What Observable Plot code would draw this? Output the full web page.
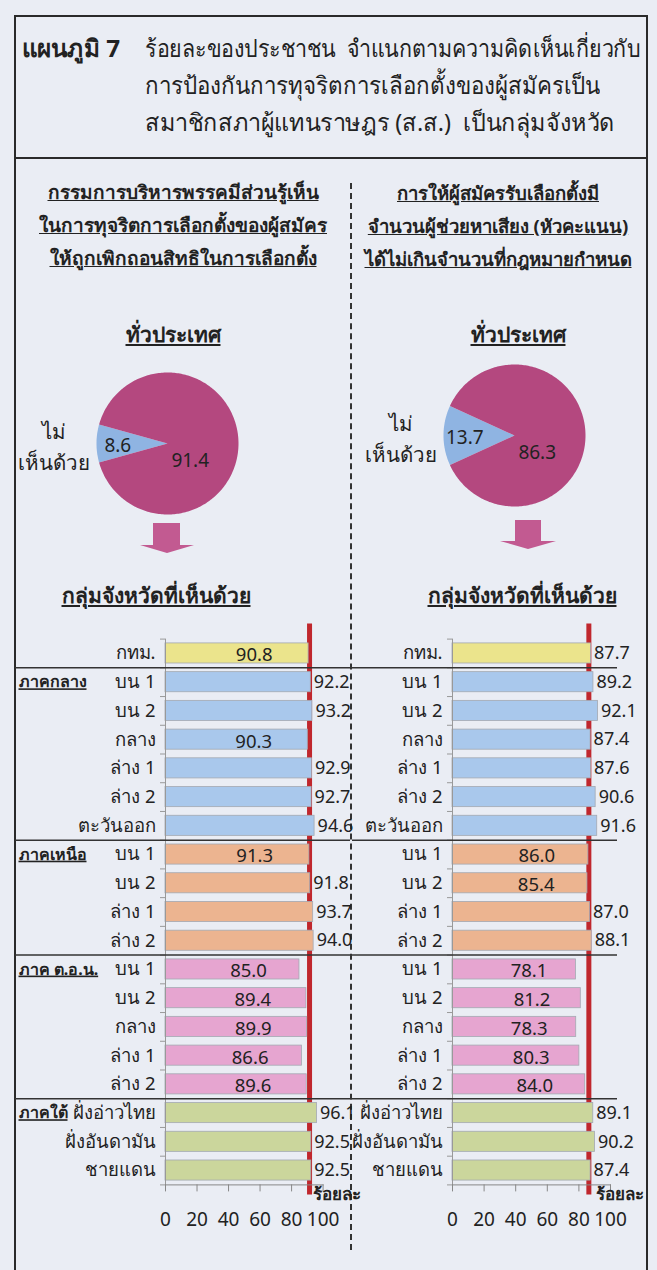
<!DOCTYPE html>
<html><head><meta charset="utf-8">
<script src="https://cdn.jsdelivr.net/npm/d3@7"></script>
<script src="https://cdn.jsdelivr.net/npm/@observablehq/plot@0.6"></script>
<style>
html,body{margin:0;padding:0;background:#eaedf4;}
#page{position:relative;width:657px;height:1270px;overflow:hidden;background:#eaedf4;font-family:"Noto Sans",sans-serif;color:#222;}
.abs{position:absolute;}
.frame{left:14px;top:15px;width:630px;height:1300px;border:2px solid #2a2a2a;}
.hline{left:14px;top:157px;width:632px;height:0;border-top:2px solid #2a2a2a;}
.divider{left:350px;top:183px;height:1067px;width:0;border-left:2px dashed #333;}
.title{font-size:24px;line-height:37px;white-space:nowrap;}
.hdr{font-weight:bold;text-decoration:underline;font-size:19px;white-space:nowrap;text-align:center;line-height:33px;}
.fit{display:inline-block;white-space:nowrap;}
svg g[font-weight="700"] text{text-decoration:underline;}
</style></head>
<body><div id="page">
<div class="abs frame"></div>
<div class="abs hline"></div>
<div class="abs divider"></div>
<div class="abs title" style="left:22px;top:29px;font-weight:bold"><span class="fit" data-w="98">แผนภูมิ 7</span></div>
<div class="abs title" style="left:145px;top:29px">
<div><span class="fit" data-w="495">ร้อยละของประชาชน&nbsp; จำแนกตามความคิดเห็นเกี่ยวกับ</span></div>
<div><span class="fit" data-w="455">การป้องกันการทุจริตการเลือกตั้งของผู้สมัครเป็น</span></div>
<div><span class="fit" data-w="470">สมาชิกสภาผู้แทนราษฎร (ส.ส.)&nbsp; เป็นกลุ่มจังหวัด</span></div>
</div>
<div id="hdrL" class="abs hdr" style="left:33px;top:176px;width:300px"></div>
<div id="hdrR" class="abs hdr" style="left:357px;top:176px;width:282px;font-size:18.5px"></div>
<div class="abs hdr" style="left:100px;top:318px;width:146px;font-size:21px">ทั่วประเทศ</div>
<div class="abs hdr" style="left:448px;top:318px;width:140px;font-size:21px">ทั่วประเทศ</div>
<div class="abs hdr" style="left:56px;top:579px;width:200px;font-size:21px">กลุ่มจังหวัดที่เห็นด้วย</div>
<div class="abs hdr" style="left:422px;top:579px;width:200px;font-size:21px">กลุ่มจังหวัดที่เห็นด้วย</div>
<svg class="abs" style="left:0;top:0" width="657" height="600">
  <polygon points="153,523 180,523 180,545 194,545 167,553 140,545 153,545" fill="#c25a91"/>
  <polygon points="515,520 541,520 541,541 556,541 528,549 500,541 515,541" fill="#c25a91"/>
</svg>
<div id="pieL" class="abs" style="left:0;top:360px"></div>
<div id="pieR" class="abs" style="left:340px;top:355px"></div>
<div id="barL" class="abs" style="left:0;top:620px"></div>
<div id="barR" class="abs" style="left:351px;top:620px"></div>
</div>
<script>
// ---------- data ----------
const headerLeft = ["กรรมการบริหารพรรคมีส่วนรู้เห็น", "ในการทุจริตการเลือกตั้งของผู้สมัคร", "ให้ถูกเพิกถอนสิทธิในการเลือกตั้ง"];
const headerRight = ["การให้ผู้สมัครรับเลือกตั้งมี", "จำนวนผู้ช่วยหาเสียง (หัวคะแนน)", "ได้ไม่เกินจำนวนที่กฎหมายกำหนด"];
const pieSlices = ["ไม่เห็นด้วย", "เห็นด้วย"];
const pieLeftValues = [8.6, 91.4];
const pieRightValues = [13.7, 86.3];
const rowLabels = ["กทม.", "บน 1", "บน 2", "กลาง", "ล่าง 1", "ล่าง 2", "ตะวันออก", "บน 1", "บน 2", "ล่าง 1", "ล่าง 2", "บน 1", "บน 2", "กลาง", "ล่าง 1", "ล่าง 2", "ฝั่งอ่าวไทย", "ฝั่งอันดามัน", "ชายแดน"];
const rowRegions = ["กทม.", "ภาคกลาง", "ภาคกลาง", "ภาคกลาง", "ภาคกลาง", "ภาคกลาง", "ภาคกลาง", "ภาคเหนือ", "ภาคเหนือ", "ภาคเหนือ", "ภาคเหนือ", "ภาค ต.อ.น.", "ภาค ต.อ.น.", "ภาค ต.อ.น.", "ภาค ต.อ.น.", "ภาค ต.อ.น.", "ภาคใต้", "ภาคใต้", "ภาคใต้"];
const leftValues = [90.8, 92.2, 93.2, 90.3, 92.9, 92.7, 94.6, 91.3, 91.8, 93.7, 94.0, 85.0, 89.4, 89.9, 86.6, 89.6, 96.1, 92.5, 92.5];
const rightValues = [87.7, 89.2, 92.1, 87.4, 87.6, 90.6, 91.6, 86.0, 85.4, 87.0, 88.1, 78.1, 81.2, 78.3, 80.3, 84.0, 89.1, 90.2, 87.4];
const regions = ["กทม.", "ภาคกลาง", "ภาคเหนือ", "ภาค ต.อ.น.", "ภาคใต้"];
const regionColors = ["#ebe48c", "#a9c8ec", "#ecb490", "#e6a5d0", "#cbd69c"];
const xTicks = [0, 20, 40, 60, 80, 100];
const unitLabel = "ร้อยละ";
const pieColors = ["#8fb4e2", "#b4487f"];

const FONT = "'Noto Sans', sans-serif";

document.getElementById("hdrL").innerHTML = headerLeft.map(t => `<div>${t}</div>`).join("");
document.getElementById("hdrR").innerHTML = headerRight.map(t => `<div>${t}</div>`).join("");

// ---------- pies ----------
function pie(values, {width, height, mL, mR, mT, mB}) {
  const a = (values[0] / 100) * 2 * Math.PI;
  const start = 1.5 * Math.PI - a / 2;
  const arcs = d3.pie().sort(null).startAngle(start).endAngle(start + 2 * Math.PI)(values)
    .map((d, i) => ({...d, name: pieSlices[i], mid: (d.startAngle + d.endAngle) / 2}));
  const pts = [];
  for (const d of arcs) {
    pts.push({name: d.name, x: 0, y: 0});
    const n = Math.max(8, Math.ceil((d.endAngle - d.startAngle) / 0.02));
    for (let k = 0; k <= n; k++) {
      const t = d.startAngle + (d.endAngle - d.startAngle) * k / n;
      pts.push({name: d.name, x: Math.sin(t), y: Math.cos(t)});
    }
    pts.push({name: d.name, x: 0, y: 0});
  }
  return Plot.plot({
    width, height, marginLeft: mL, marginRight: mR, marginTop: mT, marginBottom: mB,
    x: {domain: [-1, 1], axis: null}, y: {domain: [-1, 1], axis: null},
    color: {domain: pieSlices, range: pieColors},
    style: {background: "transparent", overflow: "visible", fontFamily: FONT, color: "#222"},
    marks: [
      Plot.line(pts, {x: "x", y: "y", z: "name", fill: "name", stroke: "none"}),
      Plot.text(arcs.slice(0, 1), {x: d => 0.7 * Math.sin(d.mid), y: d => 0.7 * Math.cos(d.mid), text: d => d.data.toFixed(1), fontSize: 19, dy: 2, fill: "#222"}),
      Plot.text(arcs.slice(1), {x: d => 0.32 * Math.sin(d.mid), y: d => 0.32 * Math.cos(d.mid), text: d => d.data.toFixed(1), fontSize: 19, dy: 17, fill: "#222"}),
      Plot.text(arcs.slice(0, 1), {x: d => 1.6 * Math.sin(d.mid), y: d => 1.6 * Math.cos(d.mid), text: () => "ไม่\nเห็นด้วย", fontSize: 20.5, lineHeight: 1.5, dy: 1, fill: "#222"})
    ]
  });
}
document.getElementById("pieL").append(pie(pieLeftValues, {width: 320, height: 170, mL: 96, mR: 82, mT: 12, mB: 16}));
document.getElementById("pieR").append(pie(pieRightValues, {width: 300, height: 170, mL: 103, mR: 55, mT: 9, mB: 19}));

// ---------- bars ----------
function bars(values, national, {width, mL, mR, sepL, sepR, groups, unitDx}) {
  const rows = rowLabels.map((label, i) => ({i, label, region: rowRegions[i], value: values[i]}));
  const seps = rows.filter(r => r.i > 0 && rowRegions[r.i] !== rowRegions[r.i - 1]).map(r => r.i - 0.5);
  const starts = rows.filter(r => (r.i === 0 || rowRegions[r.i] !== rowRegions[r.i - 1]) && r.region !== rowLabels[r.i]);
  const H = 620, mT = 18.6, mB = 55.6;
  return Plot.plot({
    width, height: H, marginLeft: mL, marginRight: mR, marginTop: mT, marginBottom: mB,
    x: {domain: [0, 100], ticks: xTicks, label: null},
    y: {domain: [-0.5, rowLabels.length - 0.5], reverse: true, axis: null},
    color: {domain: regions, range: regionColors},
    style: {background: "transparent", overflow: "visible", fontFamily: FONT, color: "#222"},
    marks: [
      Plot.ruleX([national], {stroke: "#c0272d", strokeWidth: 5, insetTop: -15, insetBottom: -10}),
      Plot.rectX(rows, {x1: () => 0, x2: "value", y1: d => d.i - 0.35, y2: d => d.i + 0.35, fill: "region", stroke: "#a3a9b2", strokeWidth: 0.8}),
      Plot.frame({anchor: "left", stroke: "#999"}),
      Plot.frame({anchor: "bottom", stroke: "#888"}),
      Plot.axisX(xTicks, {tickSize: 7, tickPadding: 21, fontSize: 19, stroke: "#888", fill: "#222", label: null}),
      Plot.axisY(d3.range(rows.length + 1).map(i => i - 0.5), {tickSize: 5, stroke: "#999", tickFormat: () => "", label: null}),
      Plot.axisY(d3.range(rows.length), {tickSize: 0, tickPadding: 10, fontSize: 18.5, fill: "#222", tickFormat: i => rowLabels[i], label: null}),
      Plot.ruleY(seps, {stroke: "#333", strokeWidth: 1.5, insetLeft: -sepL, insetRight: -sepR}),
      Plot.text(rows.filter(r => r.value > national), {x: "value", y: "i", text: d => d.value.toFixed(1), textAnchor: "start", dx: 3, fontSize: 18, fill: "#222"}),
      Plot.text(rows.filter(r => r.value <= national), {x: d => d.value * 0.62, y: "i", text: d => d.value.toFixed(1), fontSize: 18.5, fill: "#222", dy: 2}),
      groups ? Plot.text(starts, {y: "i", text: "region", frameAnchor: "left", textAnchor: "start", dx: -(mL - 18), fontSize: 16, fontWeight: 700, fill: "#222"}) : null,
      Plot.text([unitLabel], {frameAnchor: "bottom-right", text: d => d, textAnchor: "start", dx: unitDx, dy: 15, fontSize: 17, fontWeight: "bold", fill: "#222"})
    ]
  });
}
document.getElementById("barL").append(bars(leftValues, pieLeftValues[1], {width: 351, mL: 165, mR: 28.4, sepL: 150, sepR: 27.4, groups: true, unitDx: -10}));
document.getElementById("barR").append(bars(rightValues, pieRightValues[1], {width: 306, mL: 101, mR: 47, sepL: 100, sepR: 7, groups: false, unitDx: -15}));

// ---------- fit title lines ----------
document.querySelectorAll(".fit").forEach(el => {
  const w = +el.dataset.w, cur = el.getBoundingClientRect().width;
  el.style.transformOrigin = "0 50%";
  el.style.transform = `scaleX(${w / cur})`;
});
</script>
</body></html>
